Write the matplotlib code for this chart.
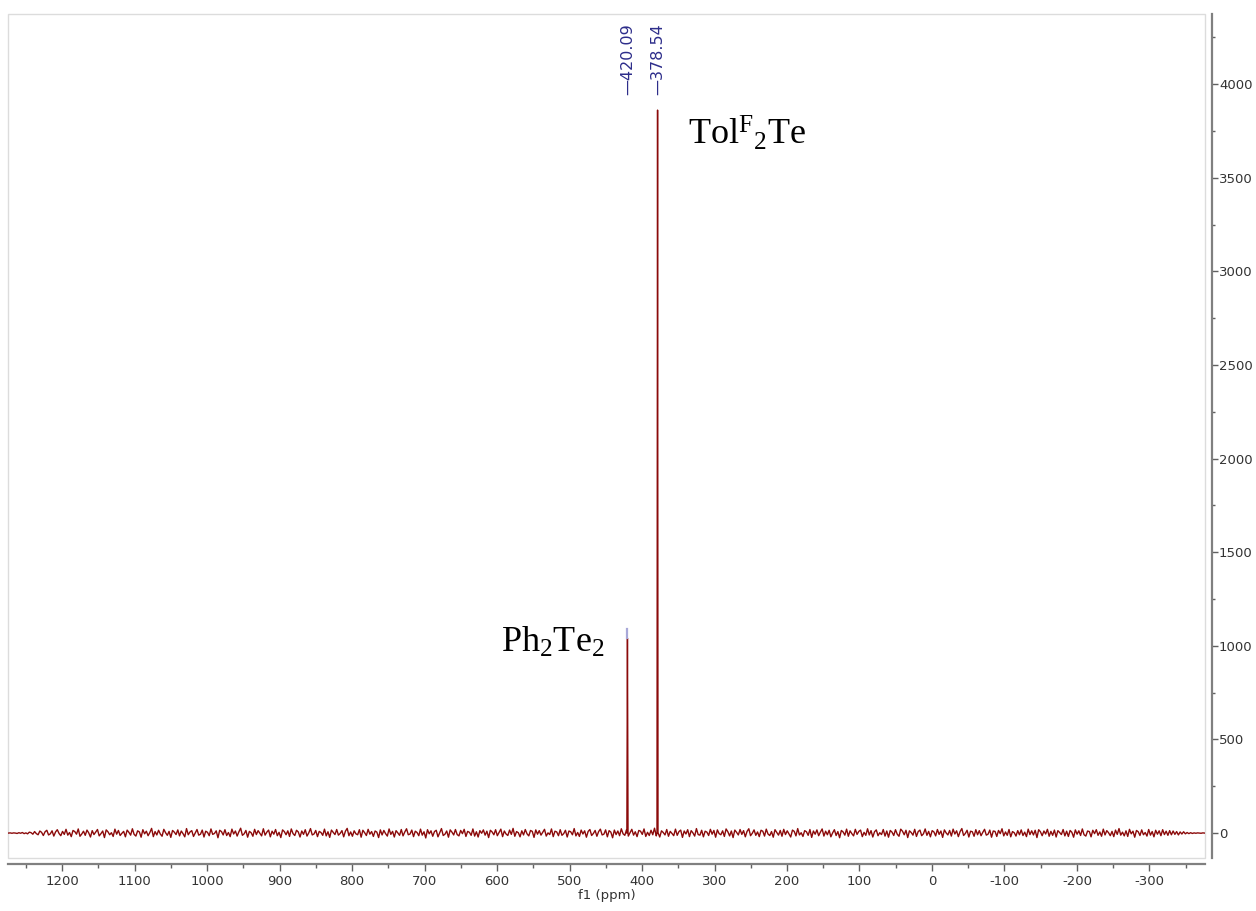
import numpy as np
import matplotlib.pyplot as plt
from matplotlib.patches import Rectangle
from matplotlib.ticker import MultipleLocator

plt.rcParams['mathtext.fontset'] = 'custom'
plt.rcParams['mathtext.rm'] = 'Liberation Serif'
plt.rcParams['mathtext.it'] = 'Liberation Serif'
plt.rcParams['mathtext.bf'] = 'Liberation Serif'
plt.rcParams['axes.unicode_minus'] = False

# spectral window (ppm) and baseline noise samples
sw_start = 1274.0
sw_end = -376.0
noise = [
    0, 1, -1, 1, 0, -2, 2, -1, 3, -3, 1, -4, 5, 2, -6, 8, -3, -9, 11, 4,
    -13, 7, 15, -10, -4, 12, -16, 6, 18, -2, -14, 9, -7, 20, -11, 3, -19, 14, 8, -6,
    22, -17, -5, 10, -12, 16, 1, -21, 13, -8, 5, 19, -15, -3, 11, -24, 17, 7, -9, 2,
    -18, 21, -6, 14, -13, -1, 9, -20, 16, 4, -11, 23, -7, -16, 12, 6, -22, 18, -4, 10,
    -14, 3, 25, -19, 8, -10, 15, -5, -17, 20, 2, -12, 9, -23, 14, 5, -8, 17, -15, 11,
    -3, -20, 24, -9, 6, 13, -18, 1, 19, -11, -6, 16, -21, 10, 4, -14, 22, -7, -2, 12,
    -25, 15, 8, -10, 18, -13, 3, -19, 21, -5, 11, -16, 7, 26, -12, -4, 14, -22, 9, 2,
    -17, 20, -8, 13, -1, -15, 23, -11, 5, 16, -20, 10, -6, 19, -14, 4, -24, 17, 8, -9,
    12, -18, 22, -3, -13, 15, 6, -21, 11, -7, 18, -16, 1, 24, -10, -5, 14, -19, 9, 3,
    -12, 21, -15, 7, -23, 16, 4, -8, 19, -11, -2, 13, -20, 10, 25, -14, 6, -17, 12, -4,
    -9, 18, -22, 15, 2, -13, 20, -6, 8, -18, 11, 5, -24, 17, -10, 14, -3, -16, 22, -7,
    9, -21, 13, 1, -12, 19, -15, 6, 23, -9, -5, 16, -19, 10, 3, -14, 21, -11, 7, -26,
    18, -4, 12, -17, 8, 15, -20, 2, 24, -13, -6, 11, -22, 17, 5, -10, 19, -8, -15, 14,
    -3, 20, -18, 9, 4, -12, 22, -16, 7, -21, 13, -1, 17, -11, 10, -24, 15, 6, -9, 18,
    -14, 3, 21, -19, 11, -5, -13, 16, -7, 25, -17, 8, 2, -20, 12, -10, 19, -4, -15, 14,
    9, -23, 17, -6, 13, -11, 4, 20, -16, 1, -8, 22, -19, 10, 6, -14, 18, -12, -3, 15,
    -21, 11, 7, -9, 24, -15, 3, -18, 16, -5, 12, -22, 9, 19, -13, -2, 14, -17, 8, 21,
    -10, -6, 17, -20, 13, 5, -25, 16, -8, 11, -14, 23, -4, -12, 18, -16, 2, 20, -11, 7,
    -19, 14, 10, -7, 22, -18, 4, -13, 15, -9, 26, -15, 6, -21, 12, 3, -10, 19, -17, 9,
    -2, -14, 21, -12, 8, 16, -23, 11, -5, 18, -19, 13, 1, -16, 24, -8, -11, 15, -20, 10,
    5, -13, 20, -6, 14, -22, 17, -3, -9, 12, -18, 22, 7, -15, 11, -24, 16, 4, -10, 19,
    -7, 13, -20, 9, 23, -14, -1, 17, -12, 6, -19, 15, 10, -16, 21, -5, -13, 8, -22, 18,
    3, -11, 14, -17, 20, -8, 12, -4, -21, 16, 9, -15, 24, -10, 2, -18, 13, 7, -12, 19,
    -23, 11, -6, 17, -14, 5, 22, -16, 10, -9, 15, -20, 1, 18, -13, 8, -25, 14, 6, -11,
    21, -17, 12, -3, -15, 20, -7, 9, 16, -19, 4, -12, 23, -10, 13, -21, 7, 17, -14, 2,
    -8, 19, -16, 11, -22, 14, 5, -13, 18, -6, -17, 21, 10, -9, 15, -24, 12, 3, -11, 20,
    -18, 8, 16, -14, -4, 22, -12, 9, -20, 13, 6, -15, 19, -7, 11, -23, 17, 1, -10, 14,
    -16, 21, -5, 12, -19, 8, 24, -13, -2, 15, -21, 10, 7, -17, 18, -9, 13, -14, 4, 20,
    -11, -6, 16, -22, 11, 9, -18, 14, -3, 23, -15, 6, -12, 19, -20, 8, 2, -16, 13, -9,
    17, -13, 5, -19, 21, -8, 12, -10, 15, -24, 18, 7, -14, 11, -5, 20, -17, 9, -12, 16,
    -21, 13, 3, -8, 19, -15, 10, -18, 14, 4, -22, 17, -6, 12, -13, 22, -9, -16, 11, 8,
    -20, 15, -3, 18, -12, 6, -17, 21, -10, 13, 2, -14, 9, -19, 16, -7, 24, -11, 5, -15,
    12, -18, 20, -4, 10, -22, 14, 7, -13, 17, -9, 3, -16, 19, -11, 8, -20, 15, -6, 12,
    -14, 18, -8, 10, -12, 13, -9, 11, -7, 8, -10, 6, -5, 7, -4, 3, -3, 2, -2, 1,
    -1, 1, 0, -1, 1, 0,
]

# peaks
peak_ppm = [420.09, 378.54]
peak_height = [1041, 3861]
peak_labels = ['420.09', '378.54']

ppm = np.linspace(sw_start, sw_end, len(noise))
x = np.concatenate([ppm, peak_ppm, np.array(peak_ppm) + 0.8, np.array(peak_ppm) - 0.8])
y = np.concatenate([noise, peak_height, np.zeros(2), np.zeros(2)])
order = np.argsort(-x)
x, y = x[order], y[order]

fig = plt.figure(figsize=(12.56, 9.11), dpi=100)
ax = fig.add_axes([0.0064, 0.0582, 0.9530, 0.9264])

ax.plot(x, y, color='#8b0a0a', lw=1.0)
# small marker above the Ph2Te2 peak
ax.plot([peak_ppm[0], peak_ppm[0]], [peak_height[0], peak_height[0] + 50], color='#a8a8d8', lw=1.6)

ax.set_xlim(1274.5, -376.6)
ax.set_ylim(-133, 4374)

# light frame around the plot area
ax.add_patch(Rectangle((0, 0), 1, 1, transform=ax.transAxes, fill=False,
                       edgecolor='#dcdcdc', lw=1.0, clip_on=False))
ax.spines['top'].set_visible(False)
ax.spines['left'].set_visible(False)
ax.spines['bottom'].set_position(('outward', 4))
ax.spines['right'].set_position(('outward', 5))
for s in ('bottom', 'right'):
    ax.spines[s].set_color('#808080')
    ax.spines[s].set_linewidth(1.6)

ax.yaxis.tick_right()
ax.set_xticks(np.arange(-300, 1201, 100))
ax.xaxis.set_minor_locator(MultipleLocator(50))
ax.set_yticks(np.arange(0, 4001, 500))
ax.yaxis.set_minor_locator(MultipleLocator(250))
ax.tick_params(axis='x', which='major', length=5, width=1, color='#606060',
               labelsize=9.5, labelcolor='#333333', pad=3)
ax.tick_params(axis='x', which='minor', length=3, width=1, color='#606060')
ax.tick_params(axis='y', which='major', length=4, width=1, color='#606060',
               labelsize=9.5, labelcolor='#333333', pad=1)
ax.tick_params(axis='y', which='minor', length=2, width=1, color='#606060')
ax.set_xlabel('f1 (ppm)', fontsize=9.5, color='#333333', labelpad=1)

# peak position labels
for p, lab in zip(peak_ppm, peak_labels):
    ax.text(p, 0.904, '\u2014' + lab, transform=ax.get_xaxis_transform(),
            rotation=90, ha='center', va='bottom', fontsize=11.5, color='#2d2d8a')

# compound annotations
ax.text(451, 967, r'Ph$_2$Te$_2$', family='Liberation Serif', fontsize=26,
        ha='right', va='baseline', color='black')
ax.text(336, 3674, r'Tol$^{\mathrm{F}}{}_{2}$Te', family='Liberation Serif', fontsize=26,
        ha='left', va='baseline', color='black')

fig.savefig('out.png', dpi=100)
